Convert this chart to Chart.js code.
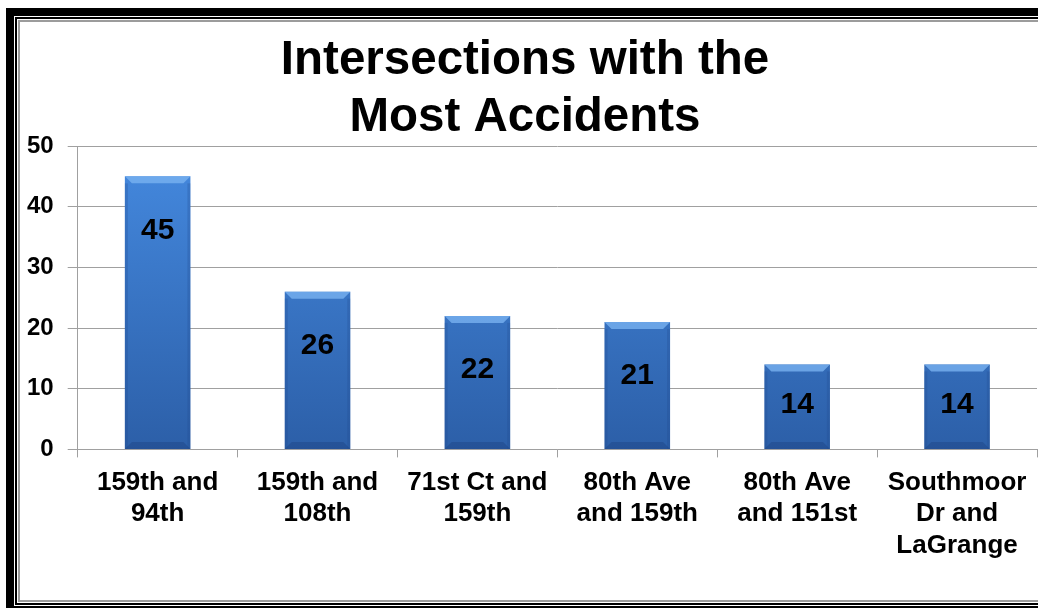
<!DOCTYPE html>
<html>
<head>
<meta charset="utf-8">
<script src="https://cdn.jsdelivr.net/npm/chart.js@4/dist/chart.umd.min.js"></script>
<style>
    html, body { margin: 0; padding: 0; background: #fff; overflow: hidden; }
    #wrap { position: relative; width: 1038px; height: 608px; overflow: hidden; }
    .f1 { position: absolute; left: 6px; top: 8px; width: 1100px; height: 606px; box-sizing: border-box; border: 8px solid #000; padding: 1px; }
    .f2 { width: 100%; height: 100%; box-sizing: border-box; border: 2px solid #000; padding: 1px; }
    .f3 { width: 100%; height: 100%; box-sizing: border-box; border: 2px solid #9c9c9c; background: #fff; }
    canvas { position: absolute; left: 0; top: 0; }
</style>
</head>
<body>
<div id="wrap">
    <div class="f1"><div class="f2"><div class="f3"></div></div></div>
    <canvas id="chart" width="1038" height="608"></canvas>
</div>
<script>
const categories = [
    ['159th and', '94th'],
    ['159th and', '108th'],
    ['71st Ct and', '159th'],
    ['80th Ave', 'and 159th'],
    ['80th Ave', 'and 151st'],
    ['Southmoor', 'Dr and', 'LaGrange']
];
const accidents = [45, 26, 22, 21, 14, 14];
const yMin = 0;
const yMax = 50;
const yStep = 10;

const FONT = 'Liberation Sans, Arial, sans-serif';

function barFill(context) {
    const chart = context.chart;
    const area = chart.chartArea;
    if (!area) return '#3a78c9';
    const g = chart.ctx.createLinearGradient(0, area.top, 0, area.bottom);
    g.addColorStop(0, '#458ae0');
    g.addColorStop(1, '#2c5fa8');
    return g;
}

// bevel look on the bars, drawn from the bar elements
const bevelPlugin = {
    id: 'bevel',
    afterDatasetsDraw(chart) {
        const ctx = chart.ctx;
        chart.getDatasetMeta(0).data.forEach(bar => {
            const left = bar.x - bar.width / 2;
            const right = bar.x + bar.width / 2;
            const top = bar.y;
            const bottom = bar.base;
            const b = 7;
            ctx.save();
            // top light bevel
            ctx.fillStyle = 'rgba(120,178,240,0.8)';
            ctx.beginPath();
            ctx.moveTo(left, top);
            ctx.lineTo(right, top);
            ctx.lineTo(right - b, top + b);
            ctx.lineTo(left + b, top + b);
            ctx.closePath();
            ctx.fill();
            // side edges
            ctx.fillStyle = 'rgba(30,70,140,0.25)';
            ctx.fillRect(left, top + b, 3, bottom - top - b);
            ctx.fillRect(right - 3, top + b, 3, bottom - top - b);
            // bottom dark bevel
            ctx.fillStyle = 'rgba(25,60,120,0.35)';
            ctx.beginPath();
            ctx.moveTo(left, bottom);
            ctx.lineTo(right, bottom);
            ctx.lineTo(right - b, bottom - b);
            ctx.lineTo(left + b, bottom - b);
            ctx.closePath();
            ctx.fill();
            ctx.restore();
        });
    }
};

const valueLabels = {
    id: 'valueLabels',
    afterDatasetsDraw(chart) {
        const ctx = chart.ctx;
        ctx.save();
        ctx.font = 'bold 30px ' + FONT;
        ctx.fillStyle = '#000';
        ctx.textAlign = 'center';
        ctx.textBaseline = 'middle';
        chart.getDatasetMeta(0).data.forEach((bar, i) => {
            const y = Math.min(bar.y + 54, (bar.y + bar.base) / 2 - 2);
            ctx.fillText(String(accidents[i]), bar.x, y);
        });
        ctx.restore();
    }
};

new Chart(document.getElementById('chart'), {
    type: 'bar',
    data: {
        labels: categories,
        datasets: [{
            data: accidents,
            backgroundColor: barFill,
            borderWidth: 0,
            barPercentage: 0.41,
            categoryPercentage: 1
        }]
    },
    options: {
        responsive: false,
        animation: false,
        layout: { padding: { top: 32, left: 13, right: 1, bottom: 37 } },
        plugins: {
            legend: { display: false },
            tooltip: { enabled: false },
            title: {
                display: true,
                text: ['Intersections with the', 'Most Accidents'],
                color: '#000',
                font: { family: FONT, size: 47.5, weight: 'bold', lineHeight: 1.2 },
                padding: { top: 0, bottom: 0 }
            }
        },
        scales: {
            x: {
                offset: true,
                grid: {
                    offset: true,
                    drawOnChartArea: false,
                    tickLength: 8,
                    color: '#a0a0a0'
                },
                border: { color: '#a0a0a0', width: 1 },
                ticks: {
                    color: '#000',
                    padding: 10,
                    maxRotation: 0,
                    autoSkip: false,
                    font: { family: FONT, size: 26, weight: 'bold', lineHeight: 1.2 }
                }
            },
            y: {
                min: yMin,
                max: yMax,
                grid: { color: '#a0a0a0', tickLength: 10 },
                border: { color: '#a0a0a0', width: 1 },
                ticks: {
                    stepSize: yStep,
                    color: '#000',
                    padding: 14,
                    font: { family: FONT, size: 24, weight: 'bold' }
                }
            }
        }
    },
    plugins: [bevelPlugin, valueLabels]
});
</script>
</body>
</html>
